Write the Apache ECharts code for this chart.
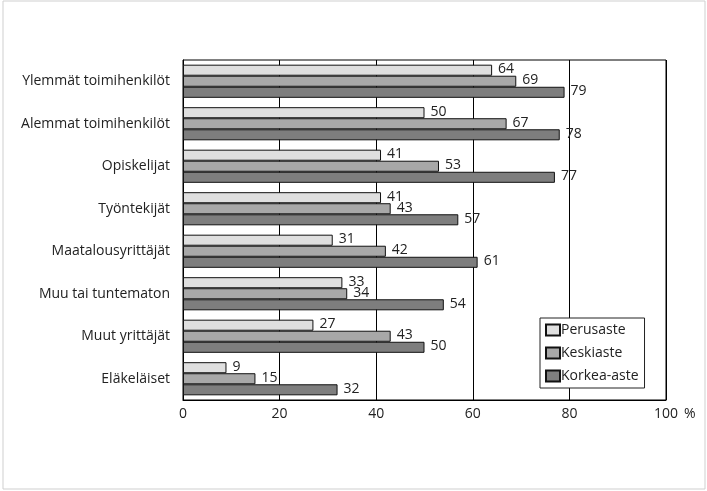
<!DOCTYPE html>
<html>
<head>
<meta charset="utf-8">
<script src="https://cdn.jsdelivr.net/npm/echarts@6/dist/echarts.min.js"></script>
<style>
html,body{margin:0;padding:0;background:#fff;}
#chart{width:707px;height:491px;}
</style>
</head>
<body>
<div id="chart"></div>
<script>
const categories = ["Ylemmät toimihenkilöt","Alemmat toimihenkilöt","Opiskelijat","Työntekijät","Maatalousyrittäjät","Muu tai tuntematon","Muut yrittäjät","Eläkeläiset"];
const seriesNames = ["Perusaste","Keskiaste","Korkea-aste"];
const perusaste = [64,50,41,41,31,33,27,9];
const keskiaste = [69,67,53,43,42,34,43,15];
const korkeaAste = [79,78,77,57,61,54,50,32];
const xTicks = [0,20,40,60,80,100];

const colors = ["#dfdfdf","#a8a8a8","#7e7e7e"];
const values = [perusaste, keskiaste, korkeaAste];
const FONT = "Open Sans";

const chart = echarts.init(document.getElementById('chart'));
chart.setOption({
  animation:false,
  backgroundColor:'#fff',
  textStyle:{fontFamily:FONT},
  graphic:[{type:'rect',shape:{x:3,y:1,width:702,height:488},style:{fill:'none',stroke:'#cfcfcf',lineWidth:1},silent:true}],
  grid:{left:183,right:41,top:60,bottom:91,show:true,borderColor:'#000',borderWidth:1},
  legend:{
    orient:'vertical',left:540,top:318,
    backgroundColor:'#fff',borderColor:'#222',borderWidth:1,padding:[5,6,5,5],
    itemWidth:14,itemHeight:11,itemGap:9,
    icon:'rect',
    textStyle:{fontFamily:FONT,fontSize:14,color:'#222',padding:[0,0,0,-4]},
    data:seriesNames
  },
  xAxis:{
    type:'value',min:xTicks[0],max:xTicks[xTicks.length-1],interval:20,
    axisLine:{show:true,lineStyle:{color:'#000',width:1}},
    axisTick:{show:false},
    splitLine:{show:true,lineStyle:{color:'#000',width:1}},
    axisLabel:{fontFamily:FONT,fontSize:14,color:'#222',margin:7},
    name:'%',nameLocation:'end',nameGap:10,
    nameTextStyle:{fontFamily:FONT,fontSize:14,color:'#222',verticalAlign:'top',padding:[7,0,0,6]}
  },
  yAxis:{
    type:'category',data:categories,inverse:true,
    axisLine:{show:true,lineStyle:{color:'#000'}},
    axisTick:{show:false},
    axisLabel:{fontFamily:FONT,fontSize:14,color:'#222',margin:13}
  },
  series:seriesNames.map((n,i)=>({
    name:n,type:'bar',data:values[i],
    barGap:'0%',barCategoryGap:'22%',
    itemStyle:{color:colors[i],borderColor:'#111',borderWidth:1},
    label:{show:true,position:'right',distance:6,offset:[0,-1],fontFamily:FONT,fontSize:14,color:'#222'}
  }))
});
</script>
</body>
</html>
